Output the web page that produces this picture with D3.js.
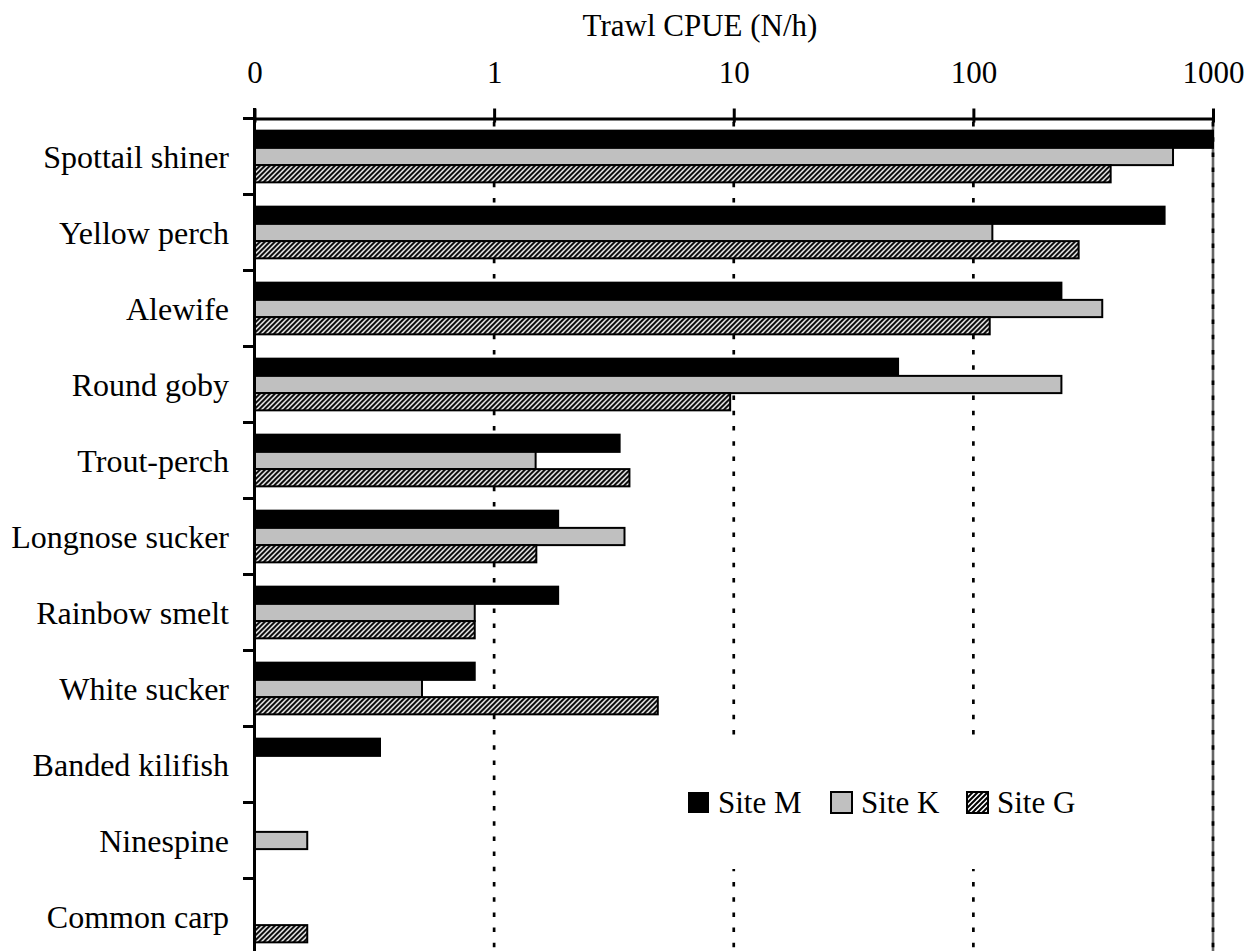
<!DOCTYPE html>
<html>
<head>
<meta charset="utf-8">
<script src="https://cdn.jsdelivr.net/npm/d3@7"></script>
<style>
  body { margin: 0; background: #fff; }
  text { font-family: "Liberation Serif", "Times New Roman", serif; }
</style>
</head>
<body>
<svg id="chart" width="1252" height="951"></svg>
<script>
const categories = ["Spottail shiner", "Yellow perch", "Alewife", "Round goby", "Trout-perch",
  "Longnose sucker", "Rainbow smelt", "White sucker", "Banded kilifish", "Ninespine", "Common carp"];
const siteM = [1000, 628, 233, 48.5, 3.34, 1.85, 1.85, 0.83, 0.334, 0, 0];
const siteK = [681, 120, 345, 233, 1.49, 3.5, 0.83, 0.5, 0, 0.166, 0];
const siteG = [374, 275, 117, 9.66, 3.67, 1.5, 0.83, 4.82, 0, 0, 0.166];
const seriesNames = ["Site M", "Site K", "Site G"];
const tickValues = [0.1, 1, 10, 100, 1000];
const tickLabels = ["0", "1", "10", "100", "1000"];
const gridValues = [1, 10, 100, 1000];

const svg = d3.select("#chart");
const fontSize = 31;

const x = d3.scaleLog().domain([0.1, 1000]).range([254.5, 1213]);
const y = d3.scaleBand().domain(categories)
  .range([118.5, 118.5 + categories.length * 76])
  .paddingInner(0.32).paddingOuter(0.16);
const ySub = d3.scaleBand().domain(seriesNames).range([0, y.bandwidth()]);

// hatch pattern for Site G
const defs = svg.append("defs");
defs.append("pattern")
  .attr("id", "hatch")
  .attr("patternUnits", "userSpaceOnUse")
  .attr("width", 5).attr("height", 5)
  .call(p => {
    p.append("rect").attr("width", 5).attr("height", 5).attr("fill", "#fff");
    p.append("path")
      .attr("d", "M-1,1 l2,-2 M0,5 l5,-5 M4,6 l2,-2")
      .attr("stroke", "#000").attr("stroke-width", 2);
  });

const fills = { "Site M": "#000", "Site K": "#c0c0c0", "Site G": "url(#hatch)" };

// gridlines
svg.append("line")
  .attr("x1", x(1000)).attr("x2", x(1000))
  .attr("y1", 118).attr("y2", 960)
  .attr("stroke", "#666").attr("stroke-width", 2.6);
svg.selectAll(".grid")
  .data(gridValues)
  .enter()
  .append("line")
  .attr("class", "grid")
  .attr("x1", d => x(d)).attr("x2", d => x(d))
  .attr("y1", 122).attr("y2", 960)
  .attr("stroke", "#000")
  .attr("stroke-width", 2.7)
  .attr("stroke-dasharray", "4.5,10.7");

// bars
const rows = categories.map((c, i) => ({
  cat: c,
  values: [
    { s: "Site M", v: siteM[i] },
    { s: "Site K", v: siteK[i] },
    { s: "Site G", v: siteG[i] }
  ]
}));

const groups = svg.selectAll(".row")
  .data(rows)
  .enter()
  .append("g")
  .attr("class", "row")
  .attr("transform", d => `translate(0,${y(d.cat)})`);

groups.selectAll("rect")
  .data(d => d.values.filter(v => v.v > 0))
  .enter()
  .append("rect")
  .attr("x", x(0.1))
  .attr("y", d => ySub(d.s))
  .attr("width", d => x(d.v) - x(0.1))
  .attr("height", ySub.bandwidth())
  .attr("fill", d => fills[d.s])
  .attr("stroke", "#000")
  .attr("stroke-width", 2);

// legend
const legend = svg.append("g");
legend.append("rect")
  .attr("x", 660).attr("y", 736)
  .attr("width", 440).attr("height", 133)
  .attr("fill", "#fff");
const legendX = [688, 831, 967];
seriesNames.forEach((s, i) => {
  legend.append("rect")
    .attr("x", legendX[i]).attr("y", 792)
    .attr("width", 21).attr("height", 21)
    .attr("fill", fills[s])
    .attr("stroke", "#000")
    .attr("stroke-width", s === "Site M" ? 0 : 2);
  legend.append("text")
    .attr("x", legendX[i] + 30).attr("y", 813)
    .attr("font-size", fontSize)
    .text(s);
});

// top axis
const xAxis = svg.append("g")
  .attr("transform", "translate(0,118.5)")
  .call(d3.axisTop(x).tickValues(tickValues).tickFormat((d, i) => tickLabels[i]).tickSizeOuter(0));
xAxis.select(".domain").attr("stroke-width", 3);
xAxis.selectAll(".tick line").attr("y1", 4).attr("y2", -10).attr("stroke-width", 3);
xAxis.selectAll(".tick text")
  .attr("y", -36)
  .attr("font-size", fontSize)
  .attr("fill", "#000");
xAxis.attr("font-family", null);

// left axis (category labels)
const yAxis = svg.append("g")
  .attr("transform", "translate(229,0)")
  .call(d3.axisLeft(y).tickSize(0).tickPadding(0));
yAxis.select(".domain").remove();
yAxis.attr("font-family", null);
yAxis.selectAll(".tick text")
  .attr("font-size", 32)
  .attr("dy", "0.35em")
  .attr("fill", "#000");

svg.append("line")
  .attr("x1", x(0.1)).attr("x2", x(0.1))
  .attr("y1", 108).attr("y2", 960)
  .attr("stroke", "#000").attr("stroke-width", 3);

svg.selectAll(".ytick")
  .data(d3.range(categories.length + 1))
  .enter()
  .append("line")
  .attr("class", "ytick")
  .attr("x1", 243).attr("x2", x(0.1))
  .attr("y1", i => y.range()[0] + i * y.step())
  .attr("y2", i => y.range()[0] + i * y.step())
  .attr("stroke", "#000").attr("stroke-width", 3);

// axis title
svg.append("text")
  .attr("x", 700).attr("y", 36)
  .attr("text-anchor", "middle")
  .attr("font-size", fontSize)
  .text("Trawl CPUE (N/h)");
</script>
</body>
</html>
